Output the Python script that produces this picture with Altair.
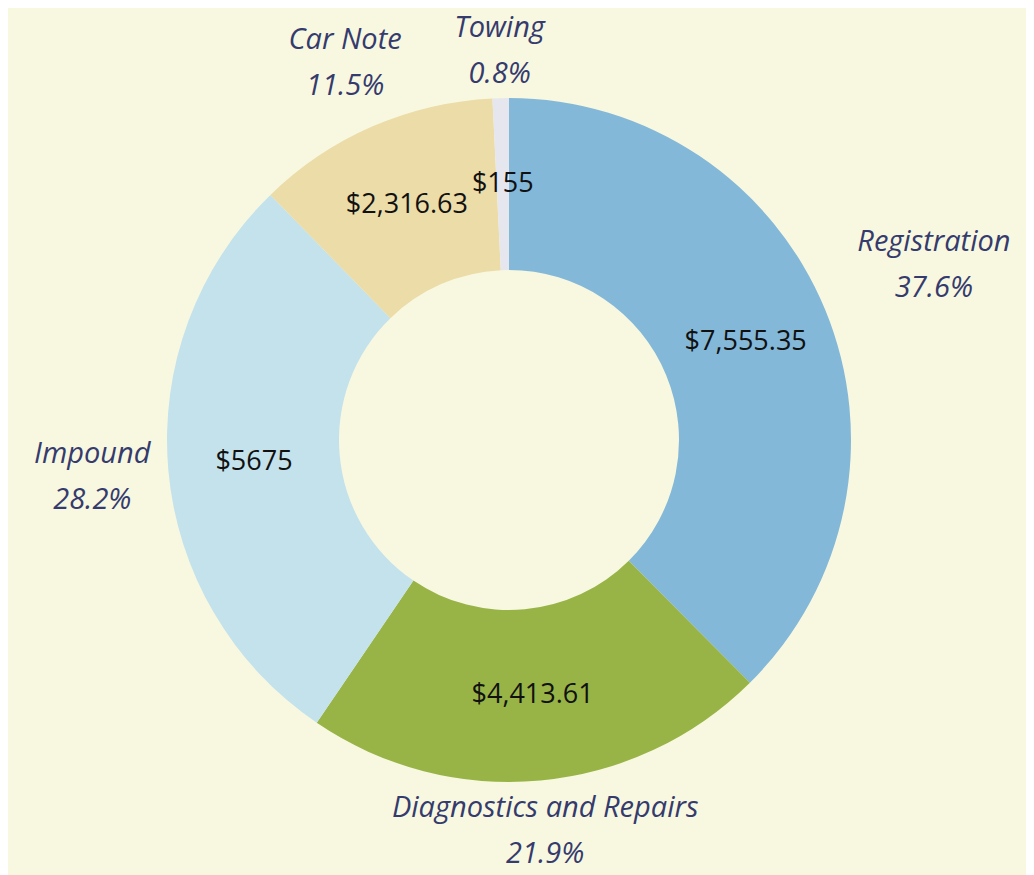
import altair as alt
import pandas as pd

categories = ["Registration", "Diagnostics and Repairs", "Impound", "Car Note", "Towing"]
values = [7555.35, 4413.61, 5675, 2316.63, 155]
value_labels = ["$7,555.35", "$4,413.61", "$5675", "$2,316.63", "$155"]
colors = ["#84B8D9", "#98B447", "#C4E2EC", "#ECDCA8", "#E6E6EE"]

df = pd.DataFrame({
    "category": categories,
    "value": values,
    "vlabel": value_labels,
    "order": list(range(len(categories))),
})

CX, CY = 501, 432
R_OUT, R_IN = 342, 170
LINE_H = 46

base = alt.Chart(df).transform_joinaggregate(
    total="sum(value)"
).transform_window(
    cum="sum(value)", sort=[alt.SortField("order")]
).transform_calculate(
    start="(datum.cum - datum.value) / datum.total * 2 * PI",
    end="datum.cum / datum.total * 2 * PI",
    mid="(datum.cum - datum.value / 2) / datum.total * 2 * PI",
    label="datum.category + '\\n' + format(datum.value / datum.total, '.1%')",
).transform_calculate(
    lr="362 + length(datum.category) * 7.9 * abs(sin(datum.mid)) + 20 * abs(cos(datum.mid)) + 6 * cos(datum.mid)"
)

arcs = base.mark_arc(radius=R_OUT, radius2=R_IN).encode(
    theta=alt.Theta("start:Q", scale=None),
    theta2="end:Q",
    color=alt.Color("category:N", scale=alt.Scale(domain=categories, range=colors), legend=None),
    x=alt.value(CX),
    y=alt.value(CY),
)

vals = base.mark_text(
    font="Open Sans", fontSize=27, color="#111111", align="center", baseline="middle"
).encode(
    theta=alt.Theta("mid:Q", scale=None),
    radius=alt.value(256),
    text="vlabel:N",
    x=alt.value(CX),
    y=alt.value(CY),
)

outer = base.mark_text(
    font="Open Sans", fontSize=29, fontStyle="italic", color="#353B6D",
    align="center", baseline="middle", lineBreak="\n", lineHeight=LINE_H,
    dy=-LINE_H / 2,
).encode(
    theta=alt.Theta("mid:Q", scale=None),
    radius=alt.Radius("lr:Q", scale=None),
    text="label:N",
    x=alt.value(CX),
    y=alt.value(CY),
)

chart = alt.layer(arcs, vals, outer).properties(
    width=1018, height=867, padding=0,
    autosize=alt.AutoSizeParams(type="none"),
).configure(background="#F8F8E1").configure_view(stroke=None)

chart.save("out.html", embed_options={"renderer": "svg", "actions": False})
